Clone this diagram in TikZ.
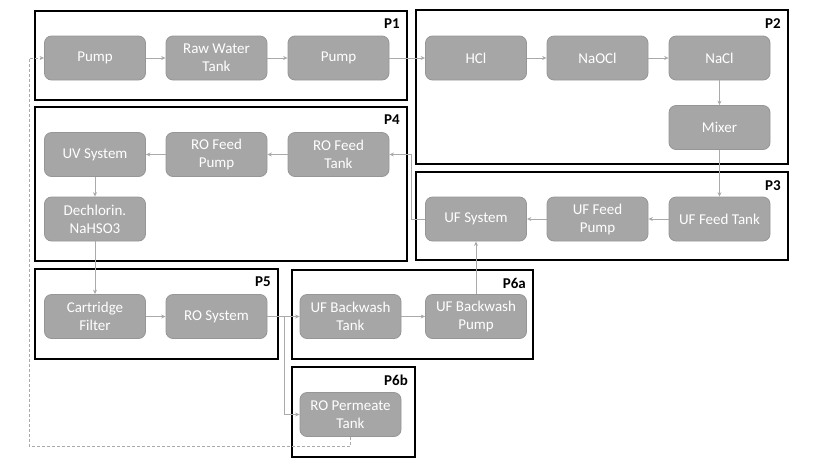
\documentclass[tikz,border=0pt]{standalone}
\usepackage{fontspec}
\setmainfont{Carlito}
\usetikzlibrary{arrows.meta}
\definecolor{boxgray}{RGB}{166,166,166}
\definecolor{boxedge}{RGB}{150,150,150}
\definecolor{flowgray}{RGB}{170,170,170}
\begin{document}
\begin{tikzpicture}[x=1pt, y=-1pt,
    unit/.style={draw=boxedge, fill=boxgray, rounded corners=7pt, line width=0.8pt,
        minimum width=101pt, minimum height=44pt, inner sep=1pt, align=center,
        text=white, font=\fontsize{15}{18}\selectfont},
    stage/.style={line width=2pt},
    tag/.style={anchor=north east, inner sep=0pt, font=\fontsize{15}{18}\selectfont\bfseries},
    flow/.style={draw=flowgray, line width=0.9pt, -{Stealth[length=4.5pt, width=4pt]}},
    back/.style={flow, dashed, dash pattern=on 3pt off 2pt}]
    \useasboundingbox (0,0) rectangle (830,467);

    % Stage frames
    \draw[stage] (35,11) rectangle (407,100);
    \draw[stage] (416,10) rectangle (788,164);
    \draw[stage] (416,172) rectangle (788,260);
    \draw[stage] (35,107) rectangle (407,261);
    \draw[stage] (35,269) rectangle (278,359);
    \draw[stage] (292,270) rectangle (533,359);
    \draw[stage] (292,367) rectangle (415,457);

    % Stage labels
    \node[tag] (p1) at (400,19) {P1};
    \node[tag] (p2) at (781,18) {P2};
    \node[tag] (p3) at (781,180) {P3};
    \node[tag] (p4) at (400,115) {P4};
    \node[tag] (p5) at (271,277) {P5};
    \node[tag] (p6a) at (526,278) {P6a};
    \node[tag] (p6b) at (408,375) {P6b};

    % P1
    \node[unit] (pump1) at (95,58) {Pump};
    \node[unit] (raw) at (216.5,58) {Raw Water\\Tank};
    \node[unit] (pump2) at (338.5,58) {Pump};

    % P2
    \node[unit] (hcl) at (476,58) {HCl};
    \node[unit] (naocl) at (597.5,58) {NaOCl};
    \node[unit] (nacl) at (719.5,58) {NaCl};
    \node[unit] (mixer) at (719.5,127.5) {Mixer};

    % P3
    \node[unit] (ufsys) at (476,219) {UF System};
    \node[unit] (ufpump) at (597.5,219) {UF Feed\\Pump};
    \node[unit] (uftank) at (719.5,219) {UF Feed Tank};

    % P4
    \node[unit] (uv) at (95,154.5) {UV System};
    \node[unit] (ropump) at (216.5,154.5) {RO Feed\\Pump};
    \node[unit] (rotank) at (338.5,154.5) {RO Feed\\Tank};
    \node[unit] (dechlor) at (95,219) {Dechlorin.\\NaHSO3};

    % P5
    \node[unit] (cart) at (95,316.5) {Cartridge\\Filter};
    \node[unit] (rosys) at (216.5,316.5) {RO System};

    % P6a and P6b
    \node[unit] (bwtank) at (350.5,316.5) {UF Backwash\\Tank};
    \node[unit] (bwpump) at (476,316.5) {UF Backwash\\Pump};
    \node[unit] (perm) at (350.5,414.5) {RO Permeate\\Tank};

    % Main flow
    \draw[flow] (pump1) -- (raw);
    \draw[flow] (raw) -- (pump2);
    \draw[flow] (pump2) -- (hcl);
    \draw[flow] (hcl) -- (naocl);
    \draw[flow] (naocl) -- (nacl);
    \draw[flow] (nacl) -- (mixer);
    \draw[flow] (mixer) -- (uftank);
    \draw[flow] (uftank) -- (ufpump);
    \draw[flow] (ufpump) -- (ufsys);
    \draw[flow] (ufsys.west) -- ++(-14,0) |- (rotank.east);
    \draw[flow] (rotank) -- (ropump);
    \draw[flow] (ropump) -- (uv);
    \draw[flow] (uv) -- (dechlor);
    \draw[flow] (dechlor) -- (cart);
    \draw[flow] (cart) -- (rosys);
    \draw[flow] (rosys) -- (bwtank);
    \draw[flow] (rosys.east) -- ++(17,0) |- (perm.west);
    \draw[flow] (bwtank) -- (bwpump);
    \draw[flow] (bwpump) -- (ufsys);

    % Permeate return line
    \coordinate (ret) at (29,446);
    \draw[back] (perm.south) |- (ret) |- (pump1.west);
\end{tikzpicture}
\end{document}
